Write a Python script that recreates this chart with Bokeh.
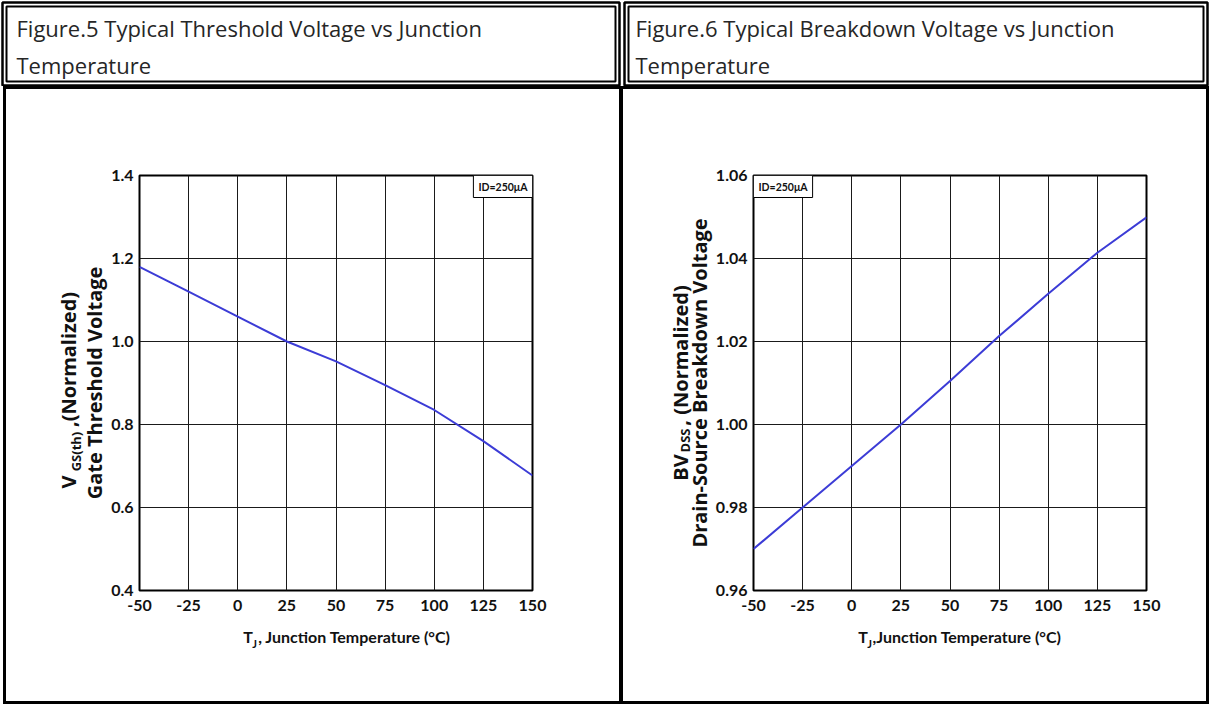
import math
from bokeh.plotting import figure
from bokeh.layouts import column, row
from bokeh.models import Range1d, FixedTicker, Label, NumeralTickFormatter, LinearAxis
from bokeh.core.properties import value
from bokeh.embed import file_html
from bokeh.resources import INLINE

# ---------------- data ----------------
temps = [-50, -25, 0, 25, 50, 75, 100, 125, 150]
vth_norm = [1.180, 1.120, 1.060, 1.000, 0.952, 0.895, 0.835, 0.760, 0.677]
bv_norm = [0.970, 0.980, 0.990, 1.000, 1.0105, 1.0213, 1.0315, 1.0414, 1.0499]

x_ticks = [-50, -25, 0, 25, 50, 75, 100, 125, 150]
x_tick_labels = ["-50", "-25", "0", "25", "50", "75", "100", "125", "150"]
vth_ticks = [0.4, 0.6, 0.8, 1.0, 1.2, 1.4]
vth_tick_labels = ["0.4", "0.6", "0.8", "1.0", "1.2", "1.4"]
bv_ticks = [0.96, 0.98, 1.00, 1.02, 1.04, 1.06]
bv_tick_labels = ["0.96", "0.98", "1.00", "1.02", "1.04", "1.06"]

title5 = ["Figure.5 Typical Threshold Voltage vs Junction", "Temperature"]
title6 = ["Figure.6 Typical Breakdown Voltage vs Junction", "Temperature"]
cond_label = "ID=250\u03bcA"

# axis-title pieces (main text, subscript, rest, second line)
vth_ylabel = ["V", "GS(th)", ",(Normalized)", "Gate Threshold Voltage"]
bv_ylabel = ["BV", "DSS", ", (Normalized)", "Drain-Source Breakdown Voltage"]
vth_xlabel = ["T", "J", ", Junction Temperature (\u00b0C)"]
bv_xlabel = ["T", "J", ",Junction Temperature (\u00b0C)"]

TITLE_FONT = "Open Sans"
TICK_FONT = "Lato"
YLAB_FONT = "Open Sans"
CURVE = "#3c3cd6"
INK = "#111111"

LEFT_W, RIGHT_W = 621, 588
HEAD_H, CHART_H = 86, 618
FRAME_TOP, FRAME_H = 175, 415


def header(width, lines, text_x, box_l, box_r):
    h = figure(width=width, height=HEAD_H, x_range=Range1d(0, width), y_range=Range1d(HEAD_H, 0),
               x_axis_type=None, y_axis_type=None, min_border=0, outline_line_color=None,
               output_backend="svg", toolbar_location=None)
    h.grid.visible = False
    h.quad(left=[box_l], right=[box_r], top=[2], bottom=[85], fill_color=None,
           line_color="black", line_width=2.5)
    h.quad(left=[box_l + 4], right=[box_r - 4], top=[6], bottom=[81], fill_color=None,
           line_color="black", line_width=2)
    h.text(x=[text_x, text_x], y=[27, 64], text=lines, text_font=value(TITLE_FONT),
           text_font_size="22px", text_color="#262626", text_baseline="alphabetic",
           text_align="left")
    return h


def style_axis(ax, font, size, standoff):
    ax.axis_line_color = None
    ax.major_tick_line_color = None
    ax.minor_tick_line_color = None
    ax.major_tick_in = 0
    ax.major_tick_out = 0
    ax.minor_tick_in = 0
    ax.minor_tick_out = 0
    ax.major_label_text_font = font
    ax.major_label_text_font_style = "bold"
    ax.major_label_text_font_size = size
    ax.major_label_text_color = INK
    ax.major_label_standoff = standoff


def piece_axis(p, side, ticks, labels, size, font, standoff):
    ticks = [round(t, 6) for t in ticks]
    ax = LinearAxis(ticker=FixedTicker(ticks=ticks))
    ax.major_label_overrides = {t: l for t, l in zip(ticks, labels)}
    style_axis(ax, font, size, standoff)
    if side == "left":
        ax.major_label_orientation = "parallel"
    p.add_layout(ax, side)


def chart(width, borders, frame_left, y_lo, y_hi, y_ticks, y_labels, y_fmt, y_vals, shadow, ylab):
    bl, br = borders
    p = figure(width=width, height=CHART_H, x_range=Range1d(-50, 150), y_range=Range1d(y_lo, y_hi),
               min_border_left=bl, min_border_right=br,
               min_border_top=FRAME_TOP - HEAD_H,
               min_border_bottom=HEAD_H + CHART_H - FRAME_TOP - FRAME_H,
               output_backend="svg", toolbar_location=None,
               background_fill_color="white", border_fill_alpha=0,
               outline_line_color="black", outline_line_width=2,
               styles={"box-shadow": shadow})
    p.xaxis.ticker = FixedTicker(ticks=x_ticks)
    p.yaxis.ticker = FixedTicker(ticks=y_ticks)
    p.xaxis.major_label_overrides = {t: l for t, l in zip(x_ticks, x_tick_labels)}
    p.yaxis.formatter = NumeralTickFormatter(format=y_fmt)
    p.yaxis.major_label_overrides = {t: l for t, l in zip(y_ticks, y_labels)}
    style_axis(p.xaxis[0], TICK_FONT, "16px", 9)
    style_axis(p.yaxis[0], TICK_FONT, "16px", 6)
    ya = p.yaxis[0]
    ya.axis_label = ylab
    ya.axis_label_text_font = YLAB_FONT
    ya.axis_label_text_font_style = "bold"
    ya.axis_label_text_font_size = "20px"
    ya.axis_label_text_color = INK
    ya.axis_label_standoff = 0
    p.grid.grid_line_color = "#1a1a1a"
    p.grid.grid_line_width = 1
    p.line(temps, y_vals, line_color=CURVE, line_width=2)

    def dx(px):
        return -50 + (px - frame_left) / 393.0 * 200.0

    def dy(py):
        return y_hi - (py - FRAME_TOP) / FRAME_H * (y_hi - y_lo)

    return p, dx, dy


def cond_box(p, x, y, align):
    p.add_layout(Label(x=x, y=y, text=cond_label, text_font=TICK_FONT,
                       text_font_style="bold", text_font_size="10.5px", text_align=align,
                       text_baseline="top", text_color=INK, padding=5,
                       border_line_color="black", border_line_width=1,
                       background_fill_color="white"))


LEFT_PANEL_EDGES = ("inset 3px 0 0 0 #fff, inset 6px 0 0 0 #000, inset -2px 0 0 0 #000, "
                    "inset 0 3px 0 0 #000, inset 0 -3px 0 0 #000")
RIGHT_PANEL_EDGES = ("inset 2px 0 0 0 #000, inset -3px 0 0 0 #000, "
                     "inset 0 3px 0 0 #000, inset 0 -3px 0 0 #000")

# ---------------- left chart ----------------
h5 = header(LEFT_W, title5, 16, 2, 619)
p5, dx5, dy5 = chart(LEFT_W, (139, 89), 139, 0.4, 1.4, vth_ticks, vth_tick_labels, "0.0",
                     vth_norm, LEFT_PANEL_EDGES, vth_ylabel[3])
piece_axis(p5, "left", [dy5(451)], [vth_ylabel[1]], "13px", YLAB_FONT, -7)
piece_axis(p5, "left", [dy5(481.5), dy5(359)], [vth_ylabel[0], vth_ylabel[2]], "20px", YLAB_FONT, -18)
piece_axis(p5, "below", [dx5(247.5), dx5(354)], [vth_xlabel[0], vth_xlabel[2]], "16px", TICK_FONT, 13)
piece_axis(p5, "below", [dx5(254)], [vth_xlabel[1]], "11px", TICK_FONT, -12)
cond_box(p5, 150, 1.4, "right")

# ---------------- right chart ----------------
h6 = header(RIGHT_W, title6, 14, 3, 586)
p6, dx6, dy6 = chart(RIGHT_W, (132, 63), 753, 0.96, 1.06, bv_ticks, bv_tick_labels, "0.00",
                     bv_norm, RIGHT_PANEL_EDGES, bv_ylabel[3])
piece_axis(p6, "left", [dy6(440)], [bv_ylabel[1]], "13px", YLAB_FONT, -12)
piece_axis(p6, "left", [dy6(467), dy6(355)], [bv_ylabel[0], bv_ylabel[2]], "20px", YLAB_FONT, -21)
piece_axis(p6, "below", [dx6(862.5), dx6(966.5)], [bv_xlabel[0], bv_xlabel[2]], "16px", TICK_FONT, 13)
piece_axis(p6, "below", [dx6(869)], [bv_xlabel[1]], "11px", TICK_FONT, -12)
cond_box(p6, -50, 1.06, "left")

layout = column(row(h5, h6), row(p5, p6))
open("out.html", "w").write(file_html(layout, INLINE))
